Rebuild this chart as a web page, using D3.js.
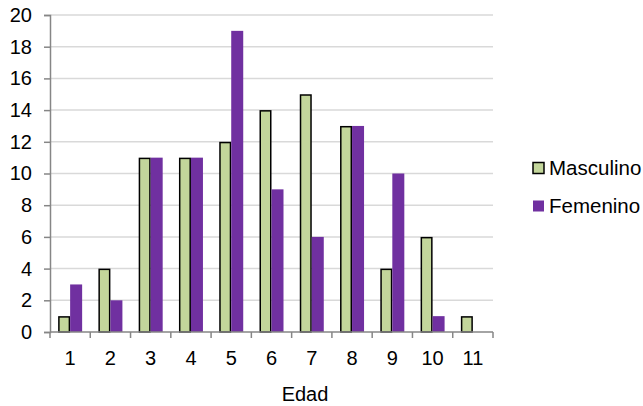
<!DOCTYPE html>
<html><head><meta charset="utf-8">
<script src="https://cdn.jsdelivr.net/npm/d3@7"></script>
<style>body{margin:0;background:#fff}svg{display:block}text{font-family:"Liberation Sans",Arial,sans-serif;fill:#000}</style>
</head><body><svg id="c" width="643" height="406"></svg>
<script>
const categories = ["1","2","3","4","5","6","7","8","9","10","11"];
const masculino = [1,4,11,11,12,14,15,13,4,6,1];
const femenino = [3,2,11,11,19,9,6,13,10,1,0];
const seriesNames = ["Masculino","Femenino"];
const yTicks = [0,2,4,6,8,10,12,14,16,18,20];
const xTitle = "Edad";

const svg = d3.select("#c");
const m = {l:50, r:150, t:15, b:74};
const W = 643 - m.l - m.r, H = 406 - m.t - m.b;
const g = svg.append("g").attr("transform",`translate(${m.l},${m.t})`);
const x = d3.scaleBand().domain(categories).range([0,W]).paddingInner(0).paddingOuter(0);
const y = d3.scaleLinear().domain([0,20]).range([H,0]);
const colors = ["#C3D69B","#7030A0"];
const bw = 12;

g.append("g").selectAll("line").data(yTicks.slice(1)).join("line")
  .attr("x1",0).attr("x2",W).attr("y1",d=>y(d)).attr("y2",d=>y(d))
  .attr("stroke","#d9d9d9").attr("stroke-width",1.5);

const sdata = [masculino, femenino];
sdata.forEach((vals,si)=>{
  const data = vals.map((v,i)=>({c:categories[i],v})).filter(d=>d.v>0);
  g.append("g").selectAll("rect").data(data).join("rect")
    .attr("x",d=>x(d.c)+x.bandwidth()/2 - bw + si*bw + (si===0?0.75:0))
    .attr("y",d=>y(d.v)+(si===0?0.75:0))
    .attr("width",bw-(si===0?1.5:0))
    .attr("height",d=>y(0)-y(d.v)-(si===0?0.75:0))
    .attr("fill",colors[si])
    .attr("stroke",si===0?"#000":"none").attr("stroke-width",1.5);
});

const ya = g.append("g").call(d3.axisLeft(y).tickValues(yTicks).tickSize(6).tickPadding(12));
const xa = g.append("g").attr("transform",`translate(0,${H})`).call(d3.axisBottom(x).tickSize(0).tickPadding(19));
[ya,xa].forEach(a=>{a.select(".domain").attr("stroke","#868686").attr("stroke-width",1.5);
  a.selectAll(".tick line").attr("stroke","#868686").attr("stroke-width",1.5);
  a.selectAll("text").attr("font-size",20).attr("font-family","Liberation Sans, Arial, sans-serif");});
xa.select(".domain").attr("d",`M0,0H${W}`);
xa.append("g").selectAll("line").data(d3.range(categories.length+1)).join("line")
  .attr("x1",i=>i*x.step()).attr("x2",i=>i*x.step()).attr("y1",0).attr("y2",6)
  .attr("stroke","#868686").attr("stroke-width",1.5);

g.append("text").attr("x",255).attr("y",H+69).attr("text-anchor","middle").attr("font-size",20).text(xTitle);

const lg = svg.append("g");
seriesNames.forEach((n,i)=>{
  const yy = 168 + i*38;
  lg.append("rect").attr("x",533).attr("y",yy-5.5).attr("width",11).attr("height",11)
    .attr("fill",colors[i]).attr("stroke",i===0?"#000":"none").attr("stroke-width",1.5);
  lg.append("text").attr("x",549).attr("y",yy+6.5).attr("font-size",20.5).text(n);
});
</script></body></html>
